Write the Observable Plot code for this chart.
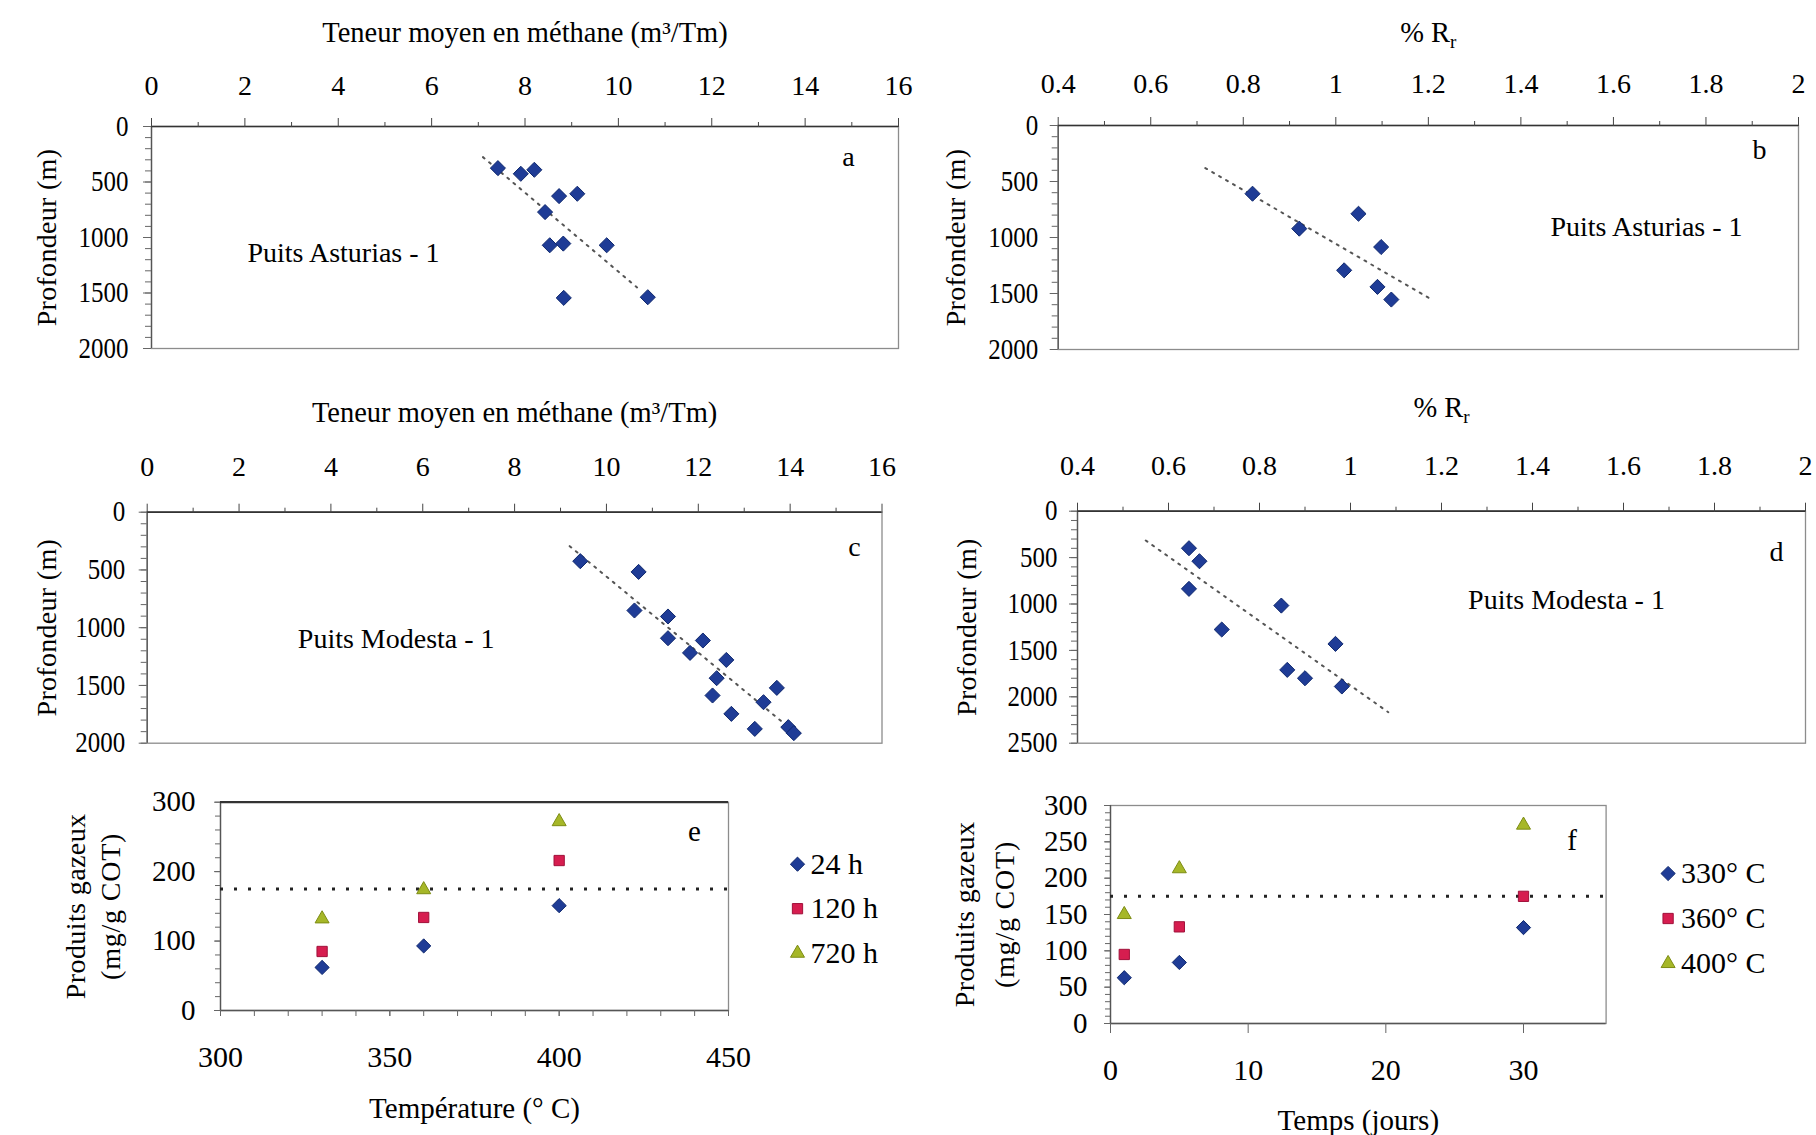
<!DOCTYPE html>
<html><head><meta charset="utf-8">
<script src="https://cdn.jsdelivr.net/npm/d3@7"></script>
<script src="https://cdn.jsdelivr.net/npm/@observablehq/plot@0.6"></script>
<style>
body{margin:0;background:#fff;}
#root{position:relative;width:1816px;height:1135px;overflow:hidden;background:#fff;font-family:"Liberation Serif",serif;}
#root > div{position:absolute;}
#root svg{overflow:visible;font-family:"Liberation Serif",serif !important;}
#root svg text{font-family:"Liberation Serif",serif !important;}
</style></head><body><div id="root"></div>
<script>
// ---------- data ----------
// (a) Puits Asturias - 1 : methane content vs depth
const methaneAsturias = [7.42, 7.91, 8.20, 8.73, 9.12, 8.43, 8.53, 8.82, 9.75, 8.83, 10.63];
const depthMethaneAsturias = [375, 426, 390, 627, 606, 771, 1070, 1055, 1070, 1544, 1538];
const trendMethaneAsturiasX = [7.1, 10.4];
const trendMethaneAsturiasDepth = [276, 1450];
// (b) Puits Asturias - 1 : %Rr vs depth
const roAsturias = [0.82, 0.921, 1.049, 1.098, 1.018, 1.090, 1.120];
const depthRoAsturias = [609, 921, 788, 1085, 1293, 1441, 1554];
const trendRoAsturiasX = [0.718, 1.201];
const trendRoAsturiasDepth = [380, 1539];
// (c) Puits Modesta - 1 : methane content vs depth
const methaneModesta = [9.43, 10.70, 10.61, 11.34, 11.34, 12.10, 11.82, 12.61, 12.40, 12.31, 13.71, 13.42, 12.72, 13.23, 13.96, 14.08];
const depthMethaneModesta = [424, 517, 851, 903, 1091, 1111, 1218, 1279, 1437, 1587, 1521, 1645, 1746, 1876, 1861, 1913];
const trendMethaneModestaX = [9.2, 13.9];
const trendMethaneModestaDepth = [294, 1840];
// (d) Puits Modesta - 1 : %Rr vs depth
const roModesta = [0.645, 0.668, 0.645, 0.848, 0.717, 0.967, 0.861, 0.900, 0.981];
const depthRoModesta = [399, 539, 837, 1017, 1275, 1430, 1710, 1800, 1889];
const trendRoModestaX = [0.55, 1.083];
const trendRoModestaDepth = [316, 2166];
// (e) gas products vs temperature, one series per duration
const temperatures = [330, 360, 400];
const durationLabels = ["24 h", "120 h", "720 h"];
const gas24h = [62, 93, 151];
const gas120h = [85, 134, 216];
const gas720h = [132, 174, 272];
// (f) gas products vs time, one series per temperature
const days = [1, 5, 30];
const temperatureLabels = ["330° C", "360° C", "400° C"];
const gas330C = [63, 84, 132];
const gas360C = [95, 133, 175];
const gas400C = [150, 213, 273];
const gasThreshold = 175;
// tick labels
const methaneTicks = [0, 2, 4, 6, 8, 10, 12, 14, 16];
const methaneMinor = [1, 3, 5, 7, 9, 11, 13, 15];
const roTicks = [0.4, 0.6, 0.8, 1, 1.2, 1.4, 1.6, 1.8, 2];
const roMinor = [0.5, 0.7, 0.9, 1.1, 1.3, 1.5, 1.7, 1.9];
const depthTicks2000 = [0, 500, 1000, 1500, 2000];
const depthTicks2500 = [0, 500, 1000, 1500, 2000, 2500];
const tempTicks = [300, 350, 400, 450];
const gasTicksE = [0, 100, 200, 300];
const gasTicksF = [0, 50, 100, 150, 200, 250, 300];
const dayTicks = [0, 10, 20, 30];

// ---------- styling ----------
const FONT = "Liberation Serif";
const BLUE = "#1f3c96", BLUE_EDGE = "#10296e";
const RED = "#d61d4f", RED_EDGE = "#a0103a";
const GREEN = "#a6b728", GREEN_EDGE = "#7d8c14";
const SYMBOLS = [
  {symbol: "diamond2", fill: BLUE, stroke: BLUE_EDGE, r: 6.4},
  {symbol: "square", fill: RED, stroke: RED_EDGE, r: 5.8},
  {symbol: "triangle", fill: GREEN, stroke: GREEN_EDGE, r: 5.2}
];
const root = document.getElementById("root");
const fmt = d => String(d);
const zip = (xs, ys) => xs.map((x, i) => ({x, y: ys[i]}));

function place(svg, left, top) {
  const div = document.createElement("div");
  div.style.left = left + "px";
  div.style.top = top + "px";
  div.appendChild(svg);
  root.appendChild(div);
  return svg;
}

function depthPanel(o) {
  const svg = Plot.plot({
    width: o.width, height: o.height,
    marginLeft: o.ml, marginRight: o.mr, marginTop: o.mt, marginBottom: o.mb,
    style: {fontFamily: FONT, fontSize: "28px", color: "#000", background: "transparent"},
    x: {domain: o.xDomain, axis: null, label: null},
    y: {domain: o.yDomain, reverse: true, axis: null, label: null},
    marks: [
      Plot.frame({stroke: "#8c8c8c", strokeWidth: 1.3}),
      Plot.ruleX([o.xDomain[0]], {stroke: "#555", strokeWidth: 1.3}),
      Plot.ruleY([o.yDomain[0]], {stroke: "#333", strokeWidth: 1.7}),
      Plot.axisX(o.xMinor, {anchor: "top", tickSize: 5, fill: "none", stroke: "#444", label: null}),
      Plot.axisX(o.xTicks, {anchor: "top", tickSize: 9, tickPadding: o.xPad, stroke: "#444", fill: "#000", tickFormat: fmt, label: null}),
      Plot.axisY(d3.range(o.yDomain[0], o.yDomain[1] + 1, 100), {anchor: "left", tickSize: 6, fill: "none", stroke: "#666", label: null}),
      Plot.axisY(o.yTicks, {anchor: "left", tickSize: 8, tickPadding: o.yPad, stroke: "#666", fill: "#000", tickFormat: fmt, label: null, fontSize: 29}),
      Plot.line(zip(o.trendX, o.trendY), {x: "x", y: "y", stroke: "#555", strokeWidth: 2, strokeDasharray: "2,6"}),
      Plot.dot(zip(o.xs, o.ys), {x: "x", y: "y", ...SYMBOLS[0], r: 6.8, strokeWidth: 1}),
      Plot.text([o.title], {text: d => d, frameAnchor: "top", dy: o.titleDy, textAnchor: "middle", lineAnchor: "middle", fill: "#000", fontSize: 28.5}),
      Plot.text(["Profondeur (m)"], {text: d => d, frameAnchor: "left", dx: o.ylabDx, rotate: -90, textAnchor: "middle", lineAnchor: "middle", fill: "#000", fontSize: 28}),
      Plot.text([o.letter], {text: d => d, frameAnchor: "top-right", dx: o.letterDx, dy: o.letterDy, textAnchor: "middle", lineAnchor: "middle", fill: "#000", fontSize: 28}),
      Plot.text([o.well], {text: d => d, frameAnchor: o.wellAnchor, dx: o.wellDx, dy: o.wellDy, textAnchor: "middle", lineAnchor: "middle", fill: "#000", fontSize: 28})
    ]
  });
  return place(svg, o.left, o.top);
}

function gasPanel(o) {
  const marks = [
    Plot.frame({stroke: "#8c8c8c", strokeWidth: 1.3}),
    Plot.ruleX([o.xDomain[0]], {stroke: "#555", strokeWidth: 1.3}),
    Plot.ruleY([0], {stroke: "#555", strokeWidth: 1.5}),
    Plot.axisX(o.xMinor, {anchor: "bottom", tickSize: o.xTickSize, fill: "none", stroke: "#666", label: null}),
    Plot.axisX(o.xTicks, {anchor: "bottom", tickSize: o.xTickSize, tickPadding: o.xPad, stroke: "#666", fill: "#000", tickFormat: fmt, label: null, fontSize: 30}),
    Plot.axisY(o.yMinor, {anchor: "left", tickSize: 5, fill: "none", stroke: "#666", label: null}),
    Plot.axisY(o.yTicks, {anchor: "left", tickSize: 6, tickPadding: o.yPad, stroke: "#666", fill: "#000", tickFormat: fmt, label: null, fontSize: 29}),
    Plot.ruleY([gasThreshold], {stroke: "#222", strokeWidth: 3, strokeDasharray: "3,11"})
  ];
  if (o.topRule) marks.push(Plot.ruleY([o.yDomain[1]], {stroke: "#333", strokeWidth: 2.2}));
  o.series.forEach((vals, i) => {
    marks.push(Plot.dot(zip(o.xs, vals), {x: "x", y: "y", ...SYMBOLS[i], strokeWidth: 1}));
    marks.push(Plot.dot([o.labels[i]], {frameAnchor: "top-right", dx: o.legDx, dy: o.legDy + i * o.legStep, ...SYMBOLS[i], strokeWidth: 1}));
    marks.push(Plot.text([o.labels[i]], {text: d => d, frameAnchor: "top-right", dx: o.legDx + 13, dy: o.legDy + i * o.legStep, textAnchor: "start", lineAnchor: "middle", fill: "#000", fontSize: 30}));
  });
  marks.push(
    Plot.text([o.xlabel], {text: d => d, frameAnchor: "bottom", dy: o.xlabDy, textAnchor: "middle", lineAnchor: "middle", fill: "#000", fontSize: 29}),
    Plot.text(["Produits gazeux"], {text: d => d, frameAnchor: "left", dx: o.ylab1Dx, rotate: -90, textAnchor: "middle", lineAnchor: "middle", fill: "#000", fontSize: 28}),
    Plot.text(["(mg/g COT)"], {text: d => d, frameAnchor: "left", dx: o.ylab2Dx, rotate: -90, textAnchor: "middle", lineAnchor: "middle", fill: "#000", fontSize: 28}),
    Plot.text([o.letter], {text: d => d, frameAnchor: "top-right", dx: o.letterDx, dy: o.letterDy, textAnchor: "middle", lineAnchor: "middle", fill: "#000", fontSize: 29})
  );
  const svg = Plot.plot({
    width: o.width, height: o.height,
    marginLeft: o.ml, marginRight: o.mr, marginTop: o.mt, marginBottom: o.mb,
    style: {fontFamily: FONT, fontSize: "27px", color: "#000", background: "transparent"},
    x: {domain: o.xDomain, axis: null, label: null},
    y: {domain: o.yDomain, axis: null, label: null},
    marks
  });
  return place(svg, o.left, o.top);
}

const depthPanels = [], gasPanels = [];
depthPanels.push(depthPanel({
  left: 0, top: 0, width: 915, height: 370, ml: 151, mr: 17, mt: 126, mb: 22,
  xDomain: [0, 16], xTicks: methaneTicks, xMinor: methaneMinor, xPad: 23,
  yDomain: [0, 2000], yTicks: depthTicks2000, yPad: 15,
  xs: methaneAsturias, ys: depthMethaneAsturias, trendX: trendMethaneAsturiasX, trendY: trendMethaneAsturiasDepth,
  title: "Teneur moyen en méthane (m³/Tm)", titleDy: -94, ylabDx: -104,
  letter: "a", letterDx: -50, letterDy: 31,
  well: "Puits Asturias - 1", wellAnchor: "top-left", wellDx: 192, wellDy: 127
}));
depthPanels.push(depthPanel({
  left: 915, top: 0, width: 901, height: 370, ml: 142.7, mr: 18, mt: 125, mb: 21,
  xDomain: [0.4, 2], xTicks: roTicks, xMinor: roMinor, xPad: 24,
  yDomain: [0, 2000], yTicks: depthTicks2000, yPad: 12,
  xs: roAsturias, ys: depthRoAsturias, trendX: trendRoAsturiasX, trendY: trendRoAsturiasDepth,
  title: "% Rr", titleDy: -93, ylabDx: -102,
  letter: "b", letterDx: -39, letterDy: 25,
  well: "Puits Asturias - 1", wellAnchor: "top-right", wellDx: -152, wellDy: 102
}));
depthPanels.push(depthPanel({
  left: 0, top: 380, width: 915, height: 375, ml: 146.7, mr: 33.5, mt: 131.7, mb: 12.3,
  xDomain: [0, 16], xTicks: methaneTicks, xMinor: methaneMinor, xPad: 27,
  yDomain: [0, 2000], yTicks: depthTicks2000, yPad: 14,
  xs: methaneModesta, ys: depthMethaneModesta, trendX: trendMethaneModestaX, trendY: trendMethaneModestaDepth,
  title: "Teneur moyen en méthane (m³/Tm)", titleDy: -99, ylabDx: -100,
  letter: "c", letterDx: -27.5, letterDy: 35,
  well: "Puits Modesta - 1", wellAnchor: "top-left", wellDx: 249, wellDy: 127
}));
depthPanels.push(depthPanel({
  left: 915, top: 380, width: 901, height: 375, ml: 162, mr: 11, mt: 130.7, mb: 12.3,
  xDomain: [0.4, 2], xTicks: roTicks, xMinor: roMinor, xPad: 27,
  yDomain: [0, 2500], yTicks: depthTicks2500, yPad: 12,
  xs: roModesta, ys: depthRoModesta, trendX: trendRoModestaX, trendY: trendRoModestaDepth,
  title: "% Rr", titleDy: -103, ylabDx: -110,
  letter: "d", letterDx: -29, letterDy: 41,
  well: "Puits Modesta - 1", wellAnchor: "top-right", wellDx: -239, wellDy: 89
}));
gasPanels.push(gasPanel({
  left: 0, top: 770, width: 915, height: 365, ml: 220, mr: 187, mt: 31.7, mb: 125,
  xDomain: [300, 450], xTicks: tempTicks, xMinor: d3.range(300, 451, 10), xTickSize: 6, xPad: 29,
  yDomain: [0, 300], yTicks: gasTicksE, yMinor: d3.range(0, 301, 20), yPad: 19, topRule: true,
  xs: temperatures, series: [gas24h, gas120h, gas720h], labels: durationLabels,
  legDx: 69, legDy: 62, legStep: 44.5,
  xlabel: "Température (° C)", xlabDy: 98, ylab1Dx: -144, ylab2Dx: -109,
  letter: "e", letterDx: -34, letterDy: 30
}));
gasPanels.push(gasPanel({
  left: 915, top: 770, width: 901, height: 365, ml: 195, mr: 210.4, mt: 35, mb: 112,
  xDomain: [0, 36], xTicks: dayTicks, xMinor: [], xTickSize: 10, xPad: 25,
  yDomain: [0, 300], yTicks: gasTicksF, yMinor: d3.range(0, 301, 10), yPad: 17, topRule: false,
  xs: days, series: [gas330C, gas360C, gas400C], labels: temperatureLabels,
  legDx: 62, legDy: 68, legStep: 45,
  xlabel: "Temps (jours)", xlabDy: 97, ylab1Dx: -145, ylab2Dx: -105,
  letter: "f", letterDx: -34, letterDy: 35
}));

// horizontal squeeze/stretch of a text element, keeping its anchor
function scaleText(t, k) {
  const len = t.getComputedTextLength();
  if (len > 0) {
    t.setAttribute("textLength", (len * k).toFixed(1));
    t.setAttribute("lengthAdjust", "spacingAndGlyphs");
  }
}

// typographic touches: serif font everywhere, subscript r, spacing of rotated labels
for (const svg of [...depthPanels, ...gasPanels]) {
  svg.setAttribute("font-family", FONT);
  svg.querySelectorAll("text").forEach(t => {
    t.setAttribute("font-family", FONT);
    const s = t.textContent;
    if (s === "% Rr") {
      t.textContent = "% R";
      const ts = document.createElementNS("http://www.w3.org/2000/svg", "tspan");
      ts.setAttribute("font-size", "19px");
      ts.setAttribute("dy", "6");
      ts.textContent = "r";
      t.appendChild(ts);
    } else if (s === "Profondeur (m)") {
      t.setAttribute("letter-spacing", "0.3px");
    } else if (s === "Produits gazeux") {
      t.setAttribute("letter-spacing", "0.4px");
    } else if (s === "(mg/g COT)") {
      t.setAttribute("letter-spacing", "0.8px");
    }
  });
}
// depth tick labels on the left axes are slightly condensed in the original
for (const svg of depthPanels) {
  svg.querySelectorAll('g[aria-label="y-axis tick label"] text').forEach(t => scaleText(t, 0.86));
}
</script></body></html>
